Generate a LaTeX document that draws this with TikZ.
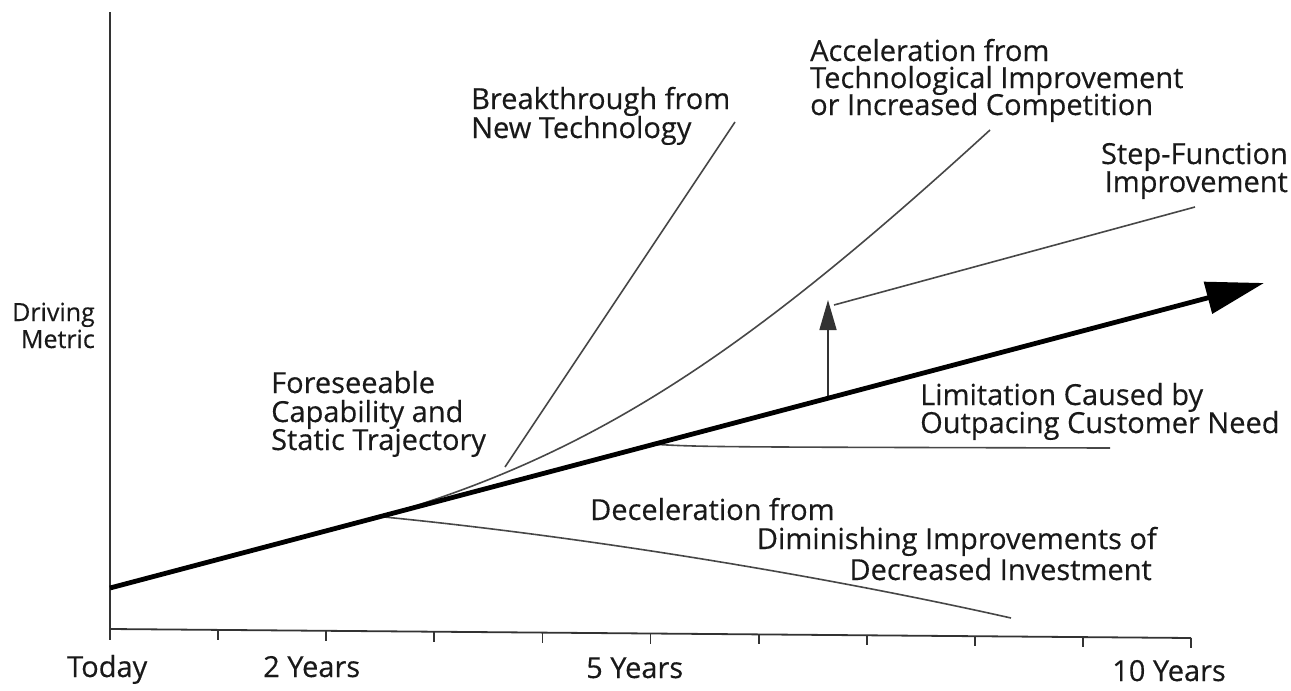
\documentclass[tikz,border=0pt]{standalone}
\usepackage{fontspec}
\setmainfont{Open Sans}
\newfontfamily\lblfont[FakeBold=0.35]{Open Sans}
\usetikzlibrary{arrows.meta}
\begin{document}
\begin{tikzpicture}[x=1pt,y=-1pt,
  lbl/.style={font=\lblfont\fontsize{29}{29}\selectfont, inner sep=0pt, text=black!90},
  small/.style={font=\lblfont\fontsize{25}{27}\selectfont, inner sep=0pt, text=black!90},
  axis/.style={line width=1.8pt, draw=black!80},
  thinline/.style={line width=1.6pt, draw=black!72},
  mainline/.style={line width=4.8pt, draw=black, -{Triangle[length=58pt,width=32pt]}},
  steparrow/.style={line width=1.6pt, draw=black!80, -{Triangle[length=30pt,width=17pt]}}]
\useasboundingbox (0,0) rectangle (1291,691);
\fill[white] (0,0) rectangle (1291,691);
% axes
\coordinate (Ytop) at (110,12);
\coordinate (Ybot) at (110,640);
\coordinate (O) at (110,629);
\coordinate (Xend) at (1191,638);
\draw[axis] (Ytop) -- (Ybot);
\draw[axis] (O) -- (Xend);
\foreach \i in {1,...,10} \draw[axis] (110+108.1*\i,629+0.9*\i) -- ++(0,10);
% main trajectory
\coordinate (M0) at (110,588);
\coordinate (Mtip) at (1264,283);
\coordinate (B) at (380,516.6);
\coordinate (L0) at (650,444);
\coordinate (S0) at (828,397.5);
% deceleration
\coordinate (D1) at (1011,618);
\draw[thinline] (B) .. controls (580,536) and (820,575) .. (D1);
% acceleration
\coordinate (A1) at (990,130);
\draw[thinline] (B) .. controls (605,452) and (760,340) .. (A1);
% breakthrough
\coordinate (K0) at (505,467);
\coordinate (K1) at (735,122);
\draw[thinline] (K0) -- (K1);
% limitation
\coordinate (L1) at (1110,448);
\draw[thinline] (L0) .. controls (700,447) .. (L1);
% step function
\coordinate (S1) at (828,300);
\coordinate (S2) at (834,305);
\coordinate (S3) at (1195,207);
\draw[steparrow] (S0) -- (S1);
\draw[thinline] (S2) -- (S3);
\draw[mainline] (M0) -- (Mtip);
% labels
\node[small, anchor=base east] (dm1) at (95,321) {Driving};
\node[small, anchor=base east] (dm2) at (95,348) {Metric};
\node[lbl, anchor=base west] (fc1) at (271,393) {Foreseeable};
\node[lbl, anchor=base west] (fc2) at (271,422) {Capability and};
\node[lbl, anchor=base west] (fc3) at (271,450) {Static Trajectory};
\node[lbl, anchor=base west] (bt1) at (471,109) {Breakthrough from};
\node[lbl, anchor=base west] (bt2) at (471,138) {New Technology};
\node[lbl, anchor=base west] (ac1) at (810,61) {Acceleration from};
\node[lbl, anchor=base west] (ac2) at (810,88) {Technological Improvement};
\node[lbl, anchor=base west] (ac3) at (810,115) {or Increased Competition};
\node[lbl, anchor=base east] (sf1) at (1288,164) {Step-Function};
\node[lbl, anchor=base east] (sf2) at (1288,192) {Improvement};
\node[lbl, anchor=base west] (lm1) at (920,405) {Limitation Caused by};
\node[lbl, anchor=base west] (lm2) at (920,433) {Outpacing Customer Need};
\node[lbl, anchor=base west] (dc1) at (590,520) {Deceleration from};
\node[lbl, anchor=base east] (dc2) at (1157,549) {Diminishing Improvements of};
\node[lbl, anchor=base east] (dc3) at (1152,580) {Decreased Investment};
\node[lbl, anchor=base west] (t0) at (67,677) {Today};
\node[lbl, anchor=base west] (t2) at (263,677) {2 Years};
\node[lbl, anchor=base west] (t5) at (586,678) {5 Years};
\node[lbl, anchor=base east] (t10) at (1226,681) {10 Years};
\end{tikzpicture}
\end{document}
